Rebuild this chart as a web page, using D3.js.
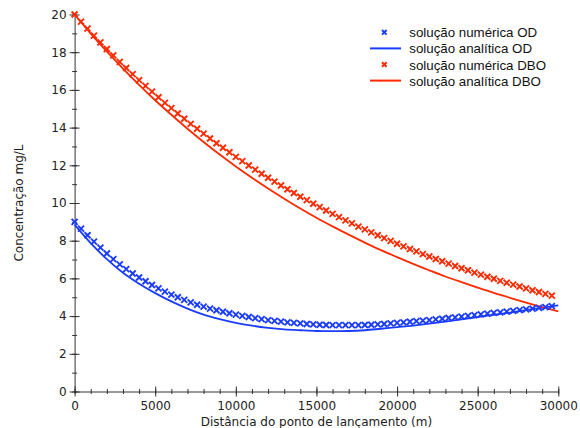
<!DOCTYPE html>
<html>
<head>
<meta charset="utf-8">
<script src="https://cdn.jsdelivr.net/npm/d3@7"></script>
<style>
  body { margin: 0; background: #fff; }
  svg { display: block; }
</style>
</head>
<body>
<script>
// distance grids (m)
var numStep = 400;
var numDist = d3.range(0, 30000, numStep);       // 0 .. 29600
var anaDist = d3.range(0, 30001, 1000);          // 0 .. 30000

// numerical solution, dissolved oxygen (mg/L)
var odNumerica = [
  9.00, 8.64, 8.29, 7.95, 7.63, 7.32, 7.02, 6.74, 6.49, 6.26,
  6.05, 5.85, 5.65, 5.47, 5.30, 5.14, 5.00, 4.86, 4.73, 4.60,
  4.50, 4.40, 4.31, 4.23, 4.15, 4.08, 4.01, 3.95, 3.89, 3.84,
  3.79, 3.75, 3.71, 3.67, 3.64, 3.61, 3.58, 3.56, 3.54, 3.53,
  3.52, 3.52, 3.52, 3.52, 3.52, 3.53, 3.54, 3.56, 3.58, 3.61,
  3.64, 3.67, 3.70, 3.73, 3.76, 3.79, 3.83, 3.86, 3.90, 3.93,
  3.97, 4.01, 4.05, 4.09, 4.13, 4.17, 4.20, 4.24, 4.28, 4.32,
  4.36, 4.40, 4.44, 4.48, 4.53
];

// numerical solution, BOD (mg/L)
var dboNumerica = [
  20.00, 19.62, 19.25, 18.88, 18.52, 18.17, 17.83, 17.49, 17.16, 16.84,
  16.52, 16.21, 15.91, 15.61, 15.31, 15.03, 14.75, 14.47, 14.20, 13.94,
  13.68, 13.42, 13.17, 12.93, 12.69, 12.45, 12.22, 11.99, 11.77, 11.55,
  11.34, 11.13, 10.93, 10.73, 10.53, 10.33, 10.15, 9.96, 9.78, 9.60,
  9.42, 9.25, 9.08, 8.92, 8.75, 8.60, 8.44, 8.29, 8.14, 7.99,
  7.84, 7.70, 7.56, 7.43, 7.29, 7.16, 7.03, 6.91, 6.78, 6.66,
  6.54, 6.43, 6.31, 6.20, 6.09, 5.98, 5.87, 5.77, 5.67, 5.57,
  5.47, 5.37, 5.28, 5.18, 5.09
];

// analytical solutions, every 1000 m
var odAnalitica = [
  8.85, 7.87, 7.02, 6.30, 5.72, 5.22, 4.78, 4.40, 4.08, 3.84,
  3.64, 3.49, 3.38, 3.30, 3.25, 3.21, 3.20, 3.21, 3.25, 3.33,
  3.41, 3.50, 3.60, 3.71, 3.83, 3.95, 4.07, 4.19, 4.32, 4.44,
  4.57
];
var dboAnalitica = [
  20.00, 18.99, 18.04, 17.13, 16.27, 15.45, 14.68, 13.94, 13.24, 12.57,
  11.94, 11.34, 10.77, 10.23, 9.71, 9.22, 8.76, 8.32, 7.90, 7.50,
  7.13, 6.77, 6.43, 6.10, 5.80, 5.51, 5.23, 4.97, 4.72, 4.48,
  4.25
];

var xMajor = [0, 5000, 10000, 15000, 20000, 25000, 30000];
var yMajor = [0, 2, 4, 6, 8, 10, 12, 14, 16, 18, 20];

var legendItems = [
  { label: 'solução numérica OD', color: '#1a3cff', kind: 'marker' },
  { label: 'solução analítica OD', color: '#1a3cff', kind: 'line' },
  { label: 'solução numérica DBO', color: '#ff2a00', kind: 'marker' },
  { label: 'solução analítica DBO', color: '#ff2a00', kind: 'line' }
];

var width = 580, height = 428;
var blue = '#1a3cff', red = '#ff2a00', axisColor = '#333';
var tickFont = 'DejaVu Sans, Verdana, sans-serif';

var svg = d3.select('body').append('svg')
  .attr('width', width)
  .attr('height', height);

var x = d3.scaleLinear().domain([0, 30000]).range([74.6, 558.3]);
var y = d3.scaleLinear().domain([0, 20]).range([391.5, 14.5]);

// x axis: minor ticks then major ticks, both crossing the axis line
var xMinor = svg.append('g')
  .attr('transform', 'translate(0,' + y(0) + ')')
  .call(d3.axisBottom(x).tickValues(d3.range(0, 30001, 1000)).tickSize(2.5).tickSizeOuter(0).tickFormat(''));
xMinor.select('.domain').remove();
xMinor.selectAll('.tick line').attr('y1', -2.5).attr('stroke', axisColor);

var xAxis = svg.append('g')
  .attr('transform', 'translate(0,' + y(0) + ')')
  .call(d3.axisBottom(x).tickValues(xMajor).tickSize(5).tickSizeOuter(0).tickPadding(5).tickFormat(d3.format('d')));
xAxis.select('.domain').attr('stroke', axisColor);
xAxis.selectAll('.tick line').attr('y1', -5).attr('stroke', axisColor);
xAxis.selectAll('.tick text')
  .attr('fill', '#222')
  .style('font-family', tickFont)
  .style('font-size', '12px');

// y axis
var yMinor = svg.append('g')
  .attr('transform', 'translate(' + x(0) + ',0)')
  .call(d3.axisLeft(y).tickValues(d3.range(0, 21, 1)).tickSize(2.5).tickSizeOuter(0).tickFormat(''));
yMinor.select('.domain').remove();
yMinor.selectAll('.tick line').attr('x1', 2.5).attr('stroke', axisColor);

var yAxis = svg.append('g')
  .attr('transform', 'translate(' + x(0) + ',0)')
  .call(d3.axisLeft(y).tickValues(yMajor).tickSize(5).tickSizeOuter(0).tickPadding(3));
yAxis.select('.domain').attr('stroke', axisColor);
yAxis.selectAll('.tick line').attr('x1', 5).attr('stroke', axisColor);
yAxis.selectAll('.tick text')
  .attr('fill', '#222')
  .style('font-family', tickFont)
  .style('font-size', '12px');

// axis titles
svg.append('text')
  .attr('x', (x(0) + x(30000)) / 2)
  .attr('y', 425.5)
  .attr('text-anchor', 'middle')
  .attr('fill', '#222')
  .style('font-family', tickFont)
  .style('font-size', '12px')
  .text('Distância do ponto de lançamento (m)');

svg.append('text')
  .attr('transform', 'translate(22.5,' + ((y(0) + y(20)) / 2) + ') rotate(-90)')
  .attr('text-anchor', 'middle')
  .attr('fill', '#222')
  .style('font-family', tickFont)
  .style('font-size', '12px')
  .text('Concentração mg/L');

// analytical curves
var line = d3.line()
  .x(function(d) { return x(d[0]); })
  .y(function(d) { return y(d[1]); })
  .curve(d3.curveMonotoneX);

function drawLine(values, color) {
  svg.append('path')
    .datum(anaDist.map(function(d, i) { return [d, values[i]]; }))
    .attr('fill', 'none')
    .attr('stroke', color)
    .attr('stroke-width', 1.8)
    .attr('d', line);
}

drawLine(odAnalitica, blue);
drawLine(dboAnalitica, red);

// numerical markers
var cross = 'M-3,-3L3,3M-3,3L3,-3';

function drawMarkers(values, color) {
  svg.append('g')
    .selectAll('path')
    .data(numDist.map(function(d, i) { return [d, values[i]]; }))
    .enter()
    .append('path')
    .attr('transform', function(d) { return 'translate(' + x(d[0]) + ',' + y(d[1]) + ')'; })
    .attr('d', cross)
    .attr('fill', 'none')
    .attr('stroke', color)
    .attr('stroke-width', 1.9);
}

drawMarkers(odNumerica, blue);
drawMarkers(dboNumerica, red);

// legend
var legend = svg.append('g');
var rows = legend.selectAll('g')
  .data(legendItems)
  .enter()
  .append('g')
  .attr('transform', function(d, i) { return 'translate(0,' + (32.3 + i * 16.1) + ')'; });

rows.filter(function(d) { return d.kind === 'marker'; })
  .append('path')
  .attr('transform', 'translate(384.3,0)')
  .attr('d', 'M-2.3,-2.3L2.3,2.3M-2.3,2.3L2.3,-2.3')
  .attr('fill', 'none')
  .attr('stroke', function(d) { return d.color; })
  .attr('stroke-width', 2);

rows.filter(function(d) { return d.kind === 'line'; })
  .append('line')
  .attr('x1', 370).attr('x2', 401)
  .attr('stroke', function(d) { return d.color; })
  .attr('stroke-width', 2);

rows.append('text')
  .attr('x', 409.3)
  .attr('y', 5)
  .attr('fill', '#111')
  .style('font-family', 'Liberation Sans, Helvetica, Arial, sans-serif')
  .style('font-size', '13.3px')
  .text(function(d) { return d.label; });
</script>
</body>
</html>
